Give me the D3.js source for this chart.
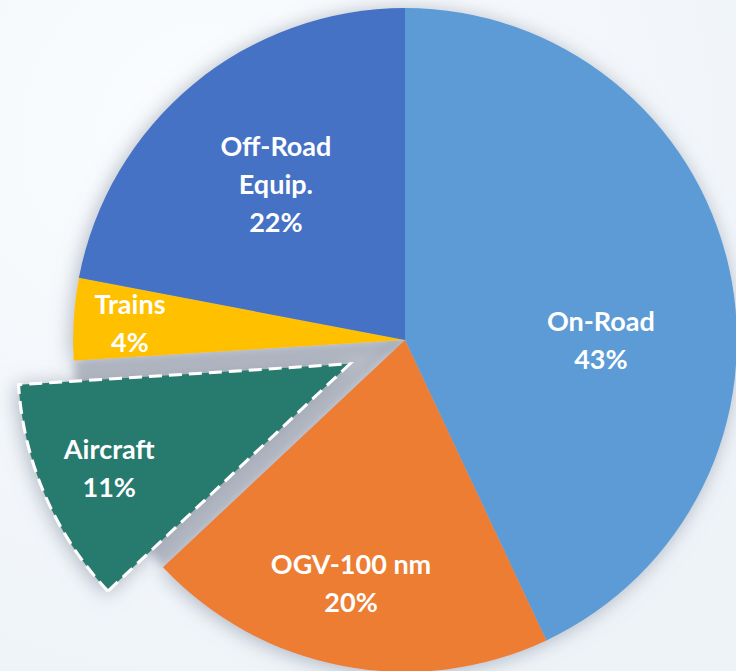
<!DOCTYPE html>
<html>
<head>
<meta charset="utf-8">
<script src="https://cdn.jsdelivr.net/npm/d3@7"></script>
<style>
  html, body { margin: 0; padding: 0; }
  body { width: 736px; height: 671px; overflow: hidden; }
</style>
</head>
<body>
<div class="pie-plot"></div>
<script>
// emission share by source
const categories = ['On-Road', 'OGV-100 nm', 'Aircraft', 'Trains', 'Off-Road Equip.'];
const shares = [43, 20, 11, 4, 22];
const colors = ['#5b9bd5', '#ed7d31', '#267a6e', '#ffc000', '#4472c4'];
const labelLines = [['On-Road'], ['OGV-100 nm'], ['Aircraft'], ['Trains'], ['Off-Road', 'Equip.']];
const exploded = 'Aircraft';

const width = 736;
const height = 671;
const cx = 405, cy = 340, radius = 332;

const data = categories.map((c, i) => ({name: c, value: shares[i], color: colors[i], lines: labelLines[i]}));

const svg = d3.select('.pie-plot').append('svg')
  .attr('width', width)
  .attr('height', height);

const defs = svg.append('defs');

const bg = defs.append('radialGradient').attr('id', 'bg')
  .attr('cx', '30%').attr('cy', '20%').attr('r', '90%');
bg.append('stop').attr('offset', '0%').attr('stop-color', '#fbfdff');
bg.append('stop').attr('offset', '100%').attr('stop-color', '#eef3f8');

const shadow = defs.append('filter').attr('id', 'shadow')
  .attr('x', '-20%').attr('y', '-20%').attr('width', '140%').attr('height', '140%');
shadow.append('feDropShadow')
  .attr('dx', -2).attr('dy', 2)
  .attr('stdDeviation', 10)
  .attr('flood-color', '#7f8899')
  .attr('flood-opacity', 0.6);

const blur = defs.append('filter').attr('id', 'blur')
  .attr('x', '-20%').attr('y', '-20%').attr('width', '140%').attr('height', '140%');
blur.append('feGaussianBlur').attr('stdDeviation', 4);

svg.append('rect')
  .attr('width', width)
  .attr('height', height)
  .attr('fill', 'url(#bg)');

const pie = d3.pie()
  .value(d => d.value)
  .sort(null);

const arcs = pie(data);

const arc = d3.arc()
  .innerRadius(0)
  .outerRadius(radius);

const g = svg.append('g')
  .attr('transform', `translate(${cx},${cy})`);

// how far the pulled-out slice moves
const explodeDist = 60;
function offset(d) {
  if (d.data.name !== exploded) return [0, 0];
  const a = (d.startAngle + d.endAngle) / 2;
  return [Math.sin(a) * explodeDist, -Math.cos(a) * explodeDist];
}

// the hole left behind by the pulled-out slice
g.append('path')
  .datum(arcs.find(d => d.data.name === exploded))
  .attr('d', arc)
  .attr('fill', '#b9bec8')
  .attr('filter', 'url(#blur)');

const slices = g.append('g').attr('filter', 'url(#shadow)');

slices.selectAll('path')
  .data(arcs.filter(d => d.data.name !== exploded))
  .enter()
  .append('path')
  .attr('d', arc)
  .attr('fill', d => d.data.color);

const ex = arcs.find(d => d.data.name === exploded);
const exG = g.append('g')
  .attr('transform', `translate(${offset(ex)})`)
  .attr('filter', 'url(#shadow)');
exG.append('path')
  .datum(ex)
  .attr('d', arc)
  .attr('fill', ex.data.color)
  .attr('stroke', '#ffffff')
  .attr('stroke-width', 3)
  .attr('stroke-dasharray', '13,7')
  .attr('stroke-linejoin', 'miter');

// label placement: fraction of radius and small angle shift
const labelPlace = {
  'On-Road': [0.59, 0.22],
  'OGV-100 nm': [0.75, 0.03],
  'Aircraft': [0.79, 0.0],
  'Trains': [0.83, 0.0],
  'Off-Road Equip.': [0.61, 0.0]
};

const lineH = 38;
const labels = g.selectAll('.label')
  .data(arcs)
  .enter()
  .append('text')
  .attr('class', 'label')
  .attr('transform', function(d) {
    const p = labelPlace[d.data.name];
    const a = (d.startAngle + d.endAngle) / 2 + p[1];
    const r = radius * p[0];
    const o = offset(d);
    return `translate(${Math.sin(a) * r + o[0]},${-Math.cos(a) * r + o[1]})`;
  })
  .attr('text-anchor', 'middle')
  .attr('font-family', 'Lato, "Open Sans", sans-serif')
  .attr('font-weight', 'bold')
  .attr('font-size', 27)
  .attr('fill', '#ffffff');

labels.each(function(d) {
  const lines = d.data.lines.concat([d.data.value + '%']);
  const n = lines.length;
  d3.select(this).selectAll('tspan')
    .data(lines)
    .enter()
    .append('tspan')
    .attr('x', 0)
    .attr('y', (t, i) => (i - (n - 1) / 2) * lineH + 10)
    .text(t => t);
});
</script>
</body>
</html>
